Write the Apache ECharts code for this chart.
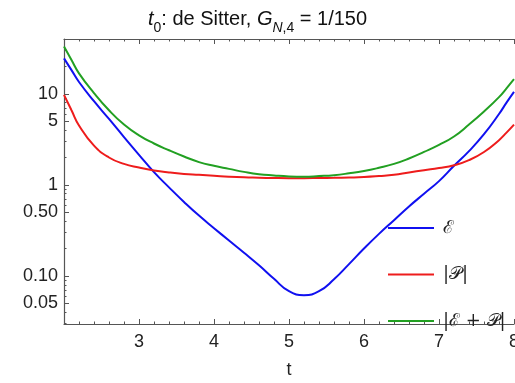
<!DOCTYPE html>
<html>
<head>
<meta charset="utf-8">
<script src="https://cdn.jsdelivr.net/npm/echarts@6/dist/echarts.min.js"></script>
<style>
  html, body { margin: 0; padding: 0; background: #fff; }
  #chart { width: 515px; height: 383px; }
</style>
</head>
<body>
<div id="chart"></div>
<script>
// t values (shared by all three curves)
const tValues = [2, 2.1, 2.2, 2.4, 2.6, 2.8, 3, 3.2, 3.4, 3.6, 3.8, 4, 4.2, 4.4, 4.6, 4.8,
  5, 5.2, 5.4, 5.6, 5.8, 6, 6.2, 6.4, 6.6, 6.8, 7, 7.2, 7.4, 7.6, 7.8, 7.9, 8];

// energy density E
const energy = [24.5, 18.2, 13.5, 8.3, 5.3, 3.35, 2.14, 1.38, 0.94, 0.65, 0.46, 0.335, 0.245, 0.18,
  0.131, 0.093, 0.068, 0.0615, 0.068, 0.092, 0.135, 0.20, 0.29, 0.41, 0.58, 0.80, 1.10, 1.62,
  2.35, 3.6, 6.0, 8.0, 10.5];

// |P|
const pressure = [9.75, 6.6, 4.5, 2.7, 2.0, 1.70, 1.55, 1.44, 1.37, 1.32, 1.29, 1.26, 1.23,
  1.21, 1.20, 1.19, 1.185, 1.185, 1.19, 1.195, 1.205, 1.22, 1.25, 1.29, 1.37, 1.45, 1.53,
  1.64, 1.87, 2.3, 3.1, 3.75, 4.6];

// |E + P|
const sumEP = [33, 23.5, 16.8, 10.2, 6.6, 4.6, 3.5, 2.85, 2.4, 2.05, 1.78, 1.62, 1.50, 1.39, 1.31,
  1.27, 1.24, 1.23, 1.25, 1.28, 1.34, 1.42, 1.54, 1.70, 1.95, 2.3, 2.75, 3.4, 4.6, 6.4, 9.2,
  11.5, 14.5];

const seriesNames = ['ℰ', '|𝒫|', '|ℰ + 𝒫|'];
const seriesColors = ['#1010f0', '#ee1c1c', '#22a022'];

const yTickValues = [0.05, 0.1, 0.5, 1, 5, 10];
const yTickLabels = ['0.05', '0.10', '0.50', '1', '5', '10'];
const yMinorValues = [0.03, 0.04, 0.06, 0.07, 0.08, 0.09, 0.2, 0.3, 0.4, 0.6, 0.7, 0.8, 0.9,
  2, 3, 4, 6, 7, 8, 9, 20, 30, 40];

const yMin = 0.0297, yMax = 40;
const axisColor = '#555';
const font = 'Liberation Sans, Arial, sans-serif';

function pairs(ys) {
  return tValues.map((t, i) => [t, ys[i]]);
}

const allData = [energy, pressure, sumEP];

let chart = echarts.init(document.getElementById('chart'));

let legends = seriesNames.map((name, i) => ({
  data: [name],
  orient: 'vertical',
  left: 383,
  top: 212 + i * 46.5,
  icon: 'rect',
  itemWidth: 46,
  itemHeight: 2,
  selectedMode: false,
  textStyle: {
    fontFamily: 'DejaVu Serif, serif',
    fontSize: 18,
    lineHeight: 22,
    color: '#222',
    padding: [0, 0, 0, 4]
  }
}));

const base = { fontFamily: font, fontWeight: 'normal', color: '#111' };

let options = {
  animation: false,
  title: {
    text: '{it|t}{sub|0}{n|: de Sitter, }{it|G}{subit|N}{sub|,4}{n| = 1/150}',
    left: 'center',
    top: 4,
    textStyle: {
      fontWeight: 'normal',
      rich: {
        n: Object.assign({ fontSize: 20, lineHeight: 26, verticalAlign: 'top' }, base),
        it: Object.assign({ fontSize: 20, fontStyle: 'italic', lineHeight: 26, verticalAlign: 'top' }, base),
        sub: Object.assign({ fontSize: 14, lineHeight: 16, padding: [12, 0, 0, 0], verticalAlign: 'top' }, base),
        subit: Object.assign({ fontSize: 14, fontStyle: 'italic', lineHeight: 16, padding: [12, 0, 0, 0], verticalAlign: 'top' }, base)
      }
    }
  },
  legend: legends,
  grid: { left: 64, right: 1, top: 39, bottom: 59, outerBoundsMode: 'none', containLabel: false },
  xAxis: [
    {
      type: 'value',
      min: 2,
      max: 8,
      interval: 1,
      name: 't',
      nameLocation: 'middle',
      nameGap: 37,
      nameTextStyle: { fontFamily: font, fontSize: 18, color: '#222' },
      axisLine: { lineStyle: { color: axisColor, width: 1.2 } },
      axisTick: { inside: true, length: 5, lineStyle: { color: axisColor } },
      minorTick: { show: true, splitNumber: 5, length: 2.5, lineStyle: { color: axisColor } },
      splitLine: { show: false },
      axisLabel: {
        margin: 9,
        fontFamily: font,
        fontSize: 18,
        color: '#222',
        showMinLabel: false,
        hideOverlap: false,
        formatter: v => String(v)
      }
    },
    {
      type: 'value',
      position: 'top',
      min: 2,
      max: 8,
      interval: 1,
      axisLine: { lineStyle: { color: axisColor, width: 1.2 } },
      axisTick: { inside: true, length: 5, lineStyle: { color: axisColor } },
      minorTick: { show: true, splitNumber: 5, length: 2.5, lineStyle: { color: axisColor } },
      splitLine: { show: false },
      axisLabel: { show: false }
    }
  ],
  yAxis: [
    {
      type: 'log',
      logBase: 10,
      min: yMin,
      max: yMax,
      axisLine: { show: true, lineStyle: { color: axisColor, width: 1.2 } },
      axisTick: { inside: true, length: 5, customValues: yTickValues, lineStyle: { color: axisColor } },
      splitLine: { show: false },
      axisLabel: {
        margin: 6,
        fontFamily: font,
        fontSize: 18,
        color: '#222',
        customValues: yTickValues,
        formatter: v => {
          let k = yTickValues.findIndex(x => Math.abs(x - v) < 1e-9);
          return k >= 0 ? yTickLabels[k] : '';
        }
      }
    },
    {
      type: 'log',
      logBase: 10,
      position: 'left',
      min: yMin,
      max: yMax,
      axisLine: { show: false },
      axisTick: { inside: true, length: 2.5, customValues: yMinorValues, lineStyle: { color: axisColor } },
      splitLine: { show: false },
      axisLabel: { show: false }
    }
  ],
  series: seriesNames.map((name, i) => ({
    name: name,
    type: 'line',
    smooth: true,
    symbol: 'none',
    clip: true,
    data: pairs(allData[i]),
    lineStyle: { color: seriesColors[i], width: 2 },
    itemStyle: { color: seriesColors[i] }
  }))
};

chart.setOption(options);
</script>
</body>
</html>
